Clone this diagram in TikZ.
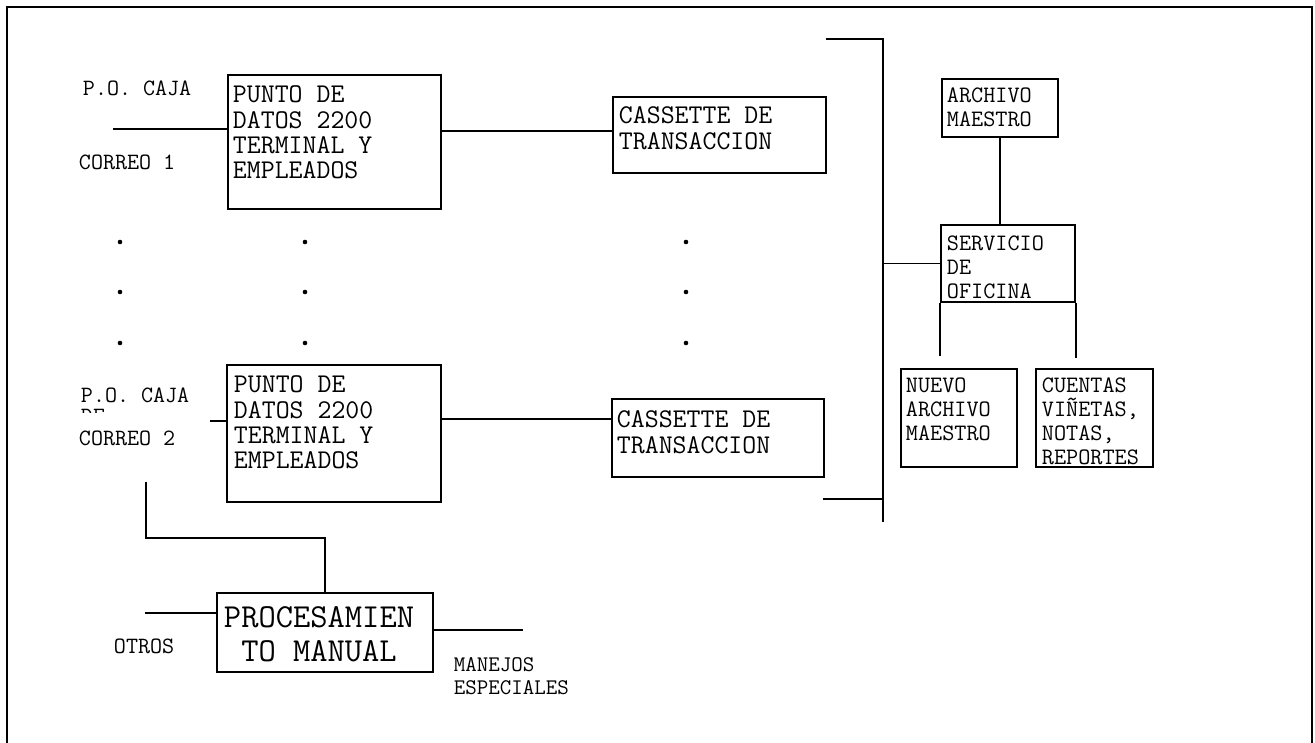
\documentclass[tikz,border=0pt]{standalone}
\usepackage{fontspec}
\usetikzlibrary{fit}

\tikzset{
  blk/.style={draw, inner sep=0pt},
  btxt/.style={anchor=north west, align=left, inner sep=0pt, font=\ttfamily\fontsize{15.4}{14.4}\selectfont},
  stxt/.style={anchor=north west, align=left, inner sep=0pt, font=\ttfamily\fontsize{13.4}{13.6}\selectfont},
  lbl/.style={anchor=west, inner sep=0pt, font=\ttfamily\fontsize{13.3}{13.1}\selectfont},
}

\begin{document}
\begin{tikzpicture}[x=0.02cm, y=-0.02cm, line width=1.1pt]
    \useasboundingbox (0,0) rectangle (1315,743);
    % frame
    \draw (7,743) -- (7,7) -- (1312,7) -- (1312,743);
    % terminals and cassettes
    \node[blk, fit={(228,75) (441,209)}] (pd1) {};
    \node[btxt] at (232,85) {PUNTO DE\\DATOS 2200\\TERMINAL Y\\EMPLEADOS};
    \node[blk, fit={(613,97) (826,173)}] (cs1) {};
    \node[btxt] at (618,106) {CASSETTE DE\\TRANSACCION};
    \node[blk, fit={(227,365) (441,502)}] (pd2) {};
    \node[btxt] at (233,375) {PUNTO DE\\DATOS 2200\\TERMINAL Y\\EMPLEADOS};
    \node[blk, fit={(612,399) (824,477)}] (cs2) {};
    \node[btxt] at (616,410) {CASSETTE DE\\TRANSACCION};
    % office service
    \node[blk, fit={(942,79) (1058,137)}] (am) {};
    \node[stxt] at (946,87) {ARCHIVO\\MAESTRO};
    \node[blk, fit={(941,225) (1075,302)}] (so) {};
    \node[stxt] at (946,235) {SERVICIO\\DE\\OFICINA};
    \node[blk, fit={(901,369) (1017,467)}] (nam) {};
    \node[stxt] at (905,377) {NUEVO\\ARCHIVO\\MAESTRO};
    \node[blk, fit={(1036,369) (1153,467)}] (cvr) {};
    \node[stxt] at (1041,377) {CUENTAS\\VIÑETAS,\\NOTAS,\\REPORTES};
    % manual processing
    \node[blk, fit={(217,593) (433,672)}] (pm) {};
    \node[anchor=north west, align=center, inner sep=0pt,
      font=\ttfamily\fontsize{19.1}{19.1}\selectfont] at (223,606) {PROCESAMIEN\\TO MANUAL};
    % labels
    \node[lbl] (pc1) at (82,88) {P.O. CAJA};
    \node[lbl] (co1) at (78,162) {CORREO 1};
    \node[lbl] (pc2) at (80,395) {P.O. CAJA};
    \begin{scope}
      \clip (70,405) rectangle (140,412);
      \node[lbl] (de2) at (80,416) {DE};
    \end{scope}
    \node[lbl] (co2) at (78,438) {CORREO 2};
    \node[lbl] (ot) at (113,646) {OTROS};
    \node[lbl, anchor=north west, align=left,
      font=\ttfamily\fontsize{12.7}{13.1}\selectfont] (mj) at (453,657) {MANEJOS\\ESPECIALES};
    % links
    \coordinate (in1) at (113,129);
    \coordinate (in2) at (210,421);
    \draw (in1) -- (in1 -| pd1.west);
    \draw (in2) -- (in2 -| pd2.west);
    \draw (pd1.east |- 0,131) -- (cs1.west |- 0,131);
    \draw (pd2.east |- 0,419) -- (cs2.west |- 0,419);
    % bus
    \coordinate (busN) at (883,39);
    \coordinate (busS) at (883,522);
    \coordinate (stubN) at (826,39);
    \coordinate (stubS) at (823,499);
    \draw (stubN) -- (busN) -- (busS);
    \draw (stubS) -- (stubS -| busN);
    \draw (busN |- so.west) -- (so.west);
    \draw (am.south) -- (am.south |- so.north);
    \draw (so.south west) -- ++(0,53);
    \draw (so.south east) -- ++(0,55);
    % manual path
    \coordinate (dn) at (146,482);
    \coordinate (oin) at (145,613);
    \coordinate (mout) at (523,630);
    \draw (dn) -- (dn |- 0,538) -| (pm.north);
    \draw (oin) -- (pm.west |- oin);
    \draw (pm.east |- mout) -- (mout);
    % continuation dots
    \foreach \x in {120,305,686}
      \foreach \y in {242,292,343}
        \fill (\x,\y) circle[radius=1.3pt];
\end{tikzpicture}
\end{document}
